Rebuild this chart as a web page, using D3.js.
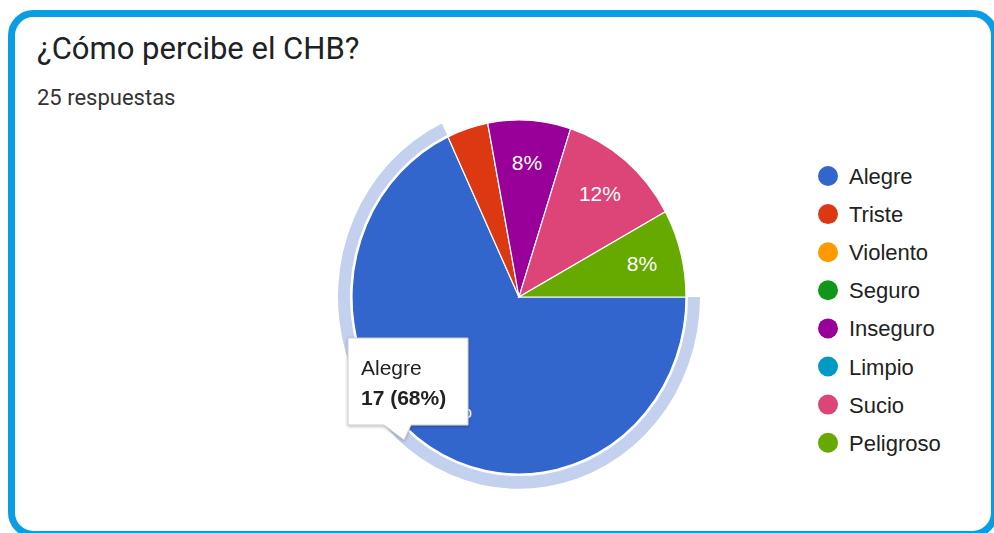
<!DOCTYPE html>
<html>
<head>
<meta charset="utf-8">
<script src="https://cdn.jsdelivr.net/npm/d3@7"></script>
<style>
  html, body { margin: 0; padding: 0; background: #ffffff; }
  svg { display: block; }
</style>
</head>
<body>
<svg id="chart" width="994" height="533"></svg>
<script>
// Survey answers: "¿Cómo percibe el CHB?"
const categories = ["Alegre", "Triste", "Violento", "Seguro", "Inseguro", "Limpio", "Sucio", "Peligroso"];
const counts = [17, 1, 0, 0, 2, 0, 3, 2];
const palette = ["#3366cc", "#dc3912", "#ff9900", "#109618", "#990099", "#0099c6", "#dd4477", "#66aa00"];
const titleText = "¿Cómo percibe el CHB?";
const totalText = "25 respuestas";
const highlighted = "Alegre";

const W = 994, H = 533;
const svg = d3.select("#chart");

const defs = svg.append("defs");
const shadow = defs.append("filter").attr("id", "tipShadow")
  .attr("x", "-20%").attr("y", "-20%").attr("width", "140%").attr("height", "140%");
shadow.append("feDropShadow").attr("dx", 0).attr("dy", 1).attr("stdDeviation", 1.5)
  .attr("flood-color", "#000").attr("flood-opacity", 0.3);

// Card frame (runs past the right and bottom edges of the view)
svg.append("rect")
  .attr("x", 11.5).attr("y", 13.5)
  .attr("width", 983).attr("height", 521)
  .attr("rx", 22).attr("ry", 22)
  .attr("fill", "#ffffff")
  .attr("stroke", "#0b9de3").attr("stroke-width", 7);

// Title and response count
svg.append("text")
  .attr("x", 37).attr("y", 59)
  .attr("font-family", "Roboto, 'Liberation Sans', Arial, sans-serif")
  .attr("font-size", 31).attr("fill", "#202124")
  .text(titleText);

svg.append("text")
  .attr("x", 37).attr("y", 105)
  .attr("font-family", "Roboto, 'Liberation Sans', Arial, sans-serif")
  .attr("font-size", 22).attr("fill", "#333333")
  .text(totalText);

// Pie
const cx = 519, cy = 297, rx = 167, ry = 177;
const total = d3.sum(counts);
const data = categories.map((c, i) => ({ name: c, value: counts[i], color: palette[i] }));

const pie = d3.pie().value(d => d.value).sort(null)
  .startAngle(Math.PI / 2).endAngle(Math.PI / 2 + 2 * Math.PI);
const arcs = pie(data);

const arc = d3.arc().innerRadius(0).outerRadius(rx);
const ringArc = d3.arc().innerRadius(rx + 2).outerRadius(rx + 14);
const labelArc = d3.arc().innerRadius(rx * 0.76).outerRadius(rx * 0.76);

const pieG = svg.append("g")
  .attr("transform", `translate(${cx},${cy}) scale(1,${ry / rx})`);

// Hover ring around the highlighted slice
pieG.selectAll("path.ring")
  .data(arcs.filter(d => d.data.name === highlighted))
  .join("path")
  .attr("class", "ring")
  .attr("d", ringArc)
  .attr("fill", "#c3d1ee");

pieG.selectAll("path.slice")
  .data(arcs.filter(d => d.value > 0))
  .join("path")
  .attr("class", "slice")
  .attr("d", arc)
  .attr("fill", d => d.data.color)
  .attr("stroke", "#ffffff")
  .attr("stroke-width", 1.2)
  .attr("vector-effect", "non-scaling-stroke");

// Percentage labels on the slices
const labelG = svg.append("g").attr("transform", `translate(${cx},${cy})`);
labelG.selectAll("text")
  .data(arcs.filter(d => d.value / total >= 0.05))
  .join("text")
  .attr("x", d => labelArc.centroid(d)[0])
  .attr("y", d => labelArc.centroid(d)[1] * ry / rx)
  .attr("text-anchor", "middle")
  .attr("dominant-baseline", "central")
  .attr("font-family", "'Liberation Sans', Arial, sans-serif")
  .attr("font-size", 21)
  .attr("fill", "#ffffff")
  .text(d => Math.round(d.value / total * 100) + "%");

// Legend
const legend = svg.append("g");
const legendX = 828, legendY0 = 176, legendStep = 38.1;
const rows = legend.selectAll("g")
  .data(data)
  .join("g")
  .attr("transform", (d, i) => `translate(${legendX},${legendY0 + i * legendStep})`);
rows.append("circle").attr("r", 10).attr("fill", d => d.color);
rows.append("text")
  .attr("x", 21).attr("y", 8)
  .attr("font-family", "'Liberation Sans', Arial, sans-serif")
  .attr("font-size", 22)
  .attr("fill", "#222222")
  .text(d => d.name);

// Tooltip for the highlighted slice
const hi = data.find(d => d.name === highlighted);
const tip = svg.append("g").attr("filter", "url(#tipShadow)");
tip.append("path")
  .attr("d", "M348,338 H468 V425 H411 L404,440 L384,425 H348 Z")
  .attr("fill", "#ffffff")
  .attr("stroke", "#cccccc")
  .attr("stroke-width", 1);
tip.append("text")
  .attr("x", 361).attr("y", 375)
  .attr("font-family", "'Liberation Sans', Arial, sans-serif")
  .attr("font-size", 21).attr("fill", "#222222")
  .text(hi.name);
tip.append("text")
  .attr("x", 361).attr("y", 405)
  .attr("font-family", "'Liberation Sans', Arial, sans-serif")
  .attr("font-size", 21).attr("font-weight", "bold").attr("fill", "#222222")
  .text(`${hi.value} (${Math.round(hi.value / total * 100)}%)`);
</script>
</body>
</html>
